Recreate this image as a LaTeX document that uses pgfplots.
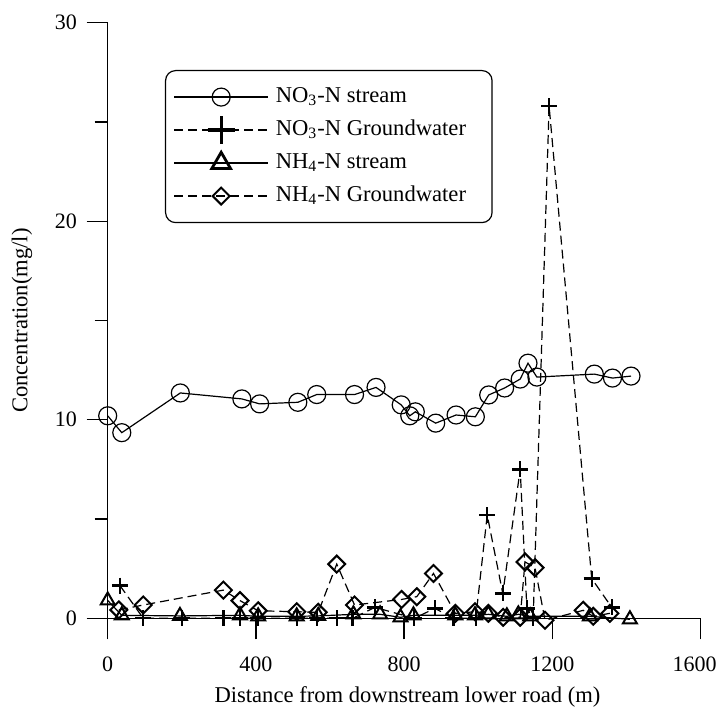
\documentclass[border=0pt]{standalone}
\usepackage{fontspec}
\setmainfont{Liberation Serif}
\usepackage{pgfplots}
\pgfplotsset{compat=1.18}
\pgfplotsset{
  legend image code/.code={\draw[mark repeat=2,mark phase=2,#1] plot coordinates {(0pt,0pt) (23.5pt,0pt) (47pt,0pt)};},
}
\begin{document}
\fontsize{11.3}{13.5}\selectfont
\begin{tikzpicture}
\path[use as bounding box] (-53.85pt,-44.35pt) rectangle ++(359.5pt,353.5pt);
\begin{axis}[
  name=ax,
  at={(0,0)}, anchor=south west,
  scale only axis,
  width=296.5pt, height=297.8pt,
  xmin=0, xmax=1600, ymin=0, ymax=30,
  axis x line*=bottom, axis y line*=left,
  axis line style={line width=0.7pt},
  xtick={0,400,800,1200,1600},
  xticklabels={0,400,800,1200,{\kern-3pt 1600\kern3pt}},
  ytick={0,10,20,30},
  minor ytick={5,15,25},
  tick align=outside,
  major tick length=10.5pt,
  minor tick length=6.5pt,
  tick style={line width=0.7pt, black},
  /pgf/number format/assume math mode=true,
  /pgf/number format/set thousands separator={},
  ticklabel style={font=\fontsize{11}{13}\selectfont, inner sep=0pt},
  xticklabel style={yshift=-8.35pt},
  yticklabel style={xshift=-4.7pt},
  xlabel={Distance from downstream lower road (m)},
  ylabel={Concentration(mg/l)},
  xlabel style={at={(axis description cs:0.5056,-0.1422)}, anchor=base, inner sep=0pt},
  ylabel style={at={(axis description cs:-0.1445,0.5)}, anchor=center, inner sep=0pt},
  clip=false,
  legend cell align=left,
  legend style={at={(0.0966,0.9206)}, anchor=north west, draw=black, line width=0.6pt,
    rounded corners=5pt, inner xsep=4pt, inner ysep=6pt,
    nodes={inner sep=2pt, text height=8pt, text depth=2.5pt},
    row sep=2pt, column sep=1.5pt,
    font=\fontsize{11.3}{13.5}\selectfont},
]
% NO3-N stream
\addplot[black, line width=0.6pt, mark=o, mark size=4.5pt, mark options={line width=0.6pt}] coordinates {
(0,10.2) (38,9.35) (196,11.35) (362,11.05) (410,10.8) (513,10.88) (564,11.27) (666,11.27)
(724,11.63) (792,10.75) (815,10.2) (830,10.4) (885,9.83) (940,10.24) (992,10.15)
(1028,11.25) (1071,11.6) (1113,12.05) (1134,12.85) (1158,12.15) (1313,12.3) (1362,12.1) (1412,12.2)
};
\addlegendentry{NO\textsubscript{3}-N stream}
% NO3-N Groundwater
\addplot[black, line width=0.6pt, dash pattern=on 4.5pt off 2.5pt, mark=+, mark size=4pt, mark options={solid, line width=1.2pt},
  legend image post style={every mark/.append style={scale=1.7, line width=1.6pt}}] coordinates {
(33,1.65) (96,0) (200,0) (312,0) (357,0) (405,0) (510,0) (565,0) (618,0) (661,0) (721,0.55)
(827,0) (883,0.5) (933,0) (993,0) (1024,5.2) (1066,1.25) (1113,7.5) (1131,0.5) (1148,0)
(1191,25.8) (1306,2.0) (1360,0.55)
};
\addlegendentry{NO\textsubscript{3}-N Groundwater}
% NH4-N stream
\addplot[black, line width=0.6pt, mark=triangle, mark size=4pt, mark options={line width=1pt},
  legend image post style={every mark/.append style={scale=1.35, line width=1.4pt}}] coordinates {
(0,0.9) (38,0.15) (195,0.12) (357,0.15) (406,0.1) (510,0.1) (568,0.12) (663,0.2) (735,0.2)
(790,0.05) (825,0.15) (938,0.15) (991,0.15) (1027,0.2) (1077,0.1) (1108,0.2) (1140,0.1)
(1301,0.1) (1409,-0.05)
};
\addlegendentry{NH\textsubscript{4}-N stream}
% NH4-N Groundwater
\addplot[black, line width=0.6pt, dash pattern=on 4.5pt off 2.5pt, mark=square, mark size=3pt, mark options={solid, line width=1pt, rotate=45}] coordinates {
(30,0.42) (96,0.67) (312,1.42) (357,0.89) (406,0.38) (510,0.33) (568,0.3) (618,2.73)
(666,0.67) (793,0.95) (834,1.09) (879,2.26) (938,0.25) (991,0.33) (1027,0.25) (1067,0.05)
(1113,0.05) (1126,2.84) (1153,2.55) (1180,-0.1) (1283,0.4) (1310,0.1) (1355,0.25)
};
\addlegendentry{NH\textsubscript{4}-N Groundwater\hspace*{7pt}}
\end{axis}
\end{tikzpicture}
\end{document}
